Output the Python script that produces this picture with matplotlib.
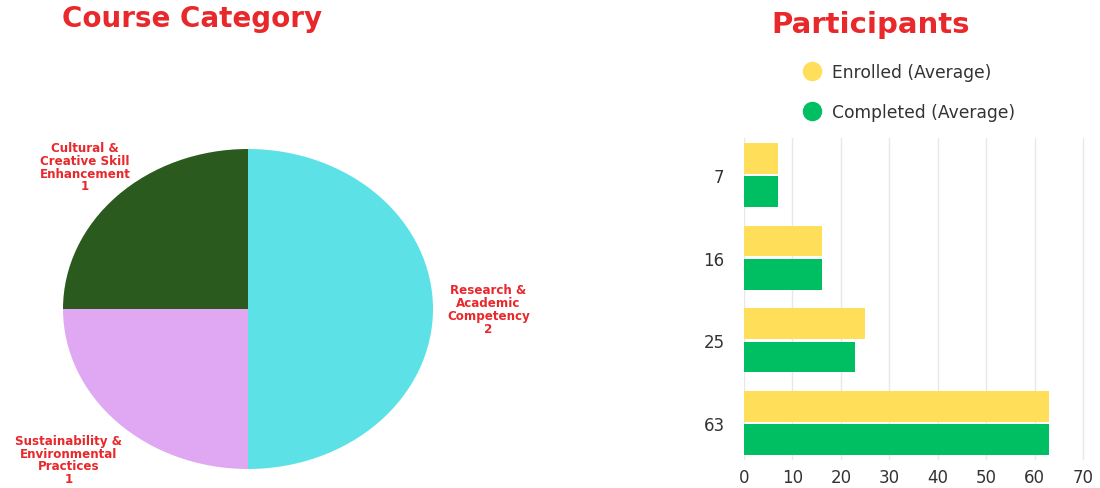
import matplotlib.pyplot as plt
from matplotlib.lines import Line2D

# Dados do gráfico de pizza
categorias = ['Research &\nAcademic\nCompetency', 'Sustainability &\nEnvironmental\nPractices',
              'Cultural &\nCreative Skill\nEnhancement']
qtd_cursos = [2, 1, 1]
cores_pizza = ['#5ce1e6', '#e0a8f2', '#2b5a1f']

# Dados do gráfico de barras
grupos = ['7', '16', '25', '63']
inscritos = [7, 16, 25, 63]
concluidos = [7, 16, 23, 63]

vermelho = '#e8282b'
amarelo = '#ffde59'
verde = '#00bf63'

plt.rcParams['font.family'] = ['DejaVu Sans']

fig = plt.figure(figsize=(11, 4.89), dpi=100)

# Pizza (elipse esticada como na imagem original)
ax1 = fig.add_axes([63 / 1100, 1 - 470 / 489, 370 / 1100, 320 / 489])
ax1.pie(qtd_cursos, colors=cores_pizza, startangle=90, counterclock=False,
        wedgeprops={'linewidth': 0})
ax1.set_aspect('auto')
ax1.set_xlim(-1, 1)
ax1.set_ylim(-1, 1)

posicoes = [(1.30, 0.0), (-0.97, -0.94), (-0.88, 0.89)]
for nome, n, (x, y) in zip(categorias, qtd_cursos, posicoes):
    ax1.text(x, y, f"{nome}\n{n}", ha='center', va='center', fontsize=8.6,
             color=vermelho, weight='bold', linespacing=0.98)

fig.text(62 / 1100, 1 - 19 / 489, 'Course Category', fontsize=20, weight='bold',
         color=vermelho, ha='left', va='center')

# Barras
ax2 = fig.add_axes([744 / 1100, 1 - 461 / 489, 344 / 1100, 322 / 489])
ys = range(len(grupos))
h = 0.37
ax2.barh([y - 0.2 for y in ys], inscritos, height=h, color=amarelo, zorder=3)
ax2.barh([y + 0.2 for y in ys], concluidos, height=h, color=verde, zorder=3)
ax2.set_yticks(list(ys))
ax2.set_yticklabels(grupos)
ax2.set_ylim(3.45, -0.45)
ax2.set_xlim(0, 71)
ax2.set_xticks(range(0, 71, 10))
ax2.grid(axis='x', color='#e8e8e8', linewidth=1, zorder=0)
for s in ax2.spines.values():
    s.set_visible(False)
ax2.tick_params(length=0, labelsize=12, labelcolor='#333333')
ax2.tick_params(axis='y', pad=14)
ax2.tick_params(axis='x', pad=6)

fig.text(871 / 1100, 1 - 25 / 489, 'Participants', fontsize=21, weight='bold',
         color=vermelho, ha='center', va='center')

handles = [Line2D([], [], marker='o', linestyle='', markersize=13, color=amarelo),
           Line2D([], [], marker='o', linestyle='', markersize=13, color=verde)]
fig.legend(handles, ['Enrolled (Average)', 'Completed (Average)'], loc='upper left',
           bbox_to_anchor=(780 / 1100, 1 - 49 / 489), frameon=False, fontsize=12.3,
           labelspacing=1.25, handletextpad=0.15, labelcolor='#333333')

plt.savefig('out.png', dpi=100)
